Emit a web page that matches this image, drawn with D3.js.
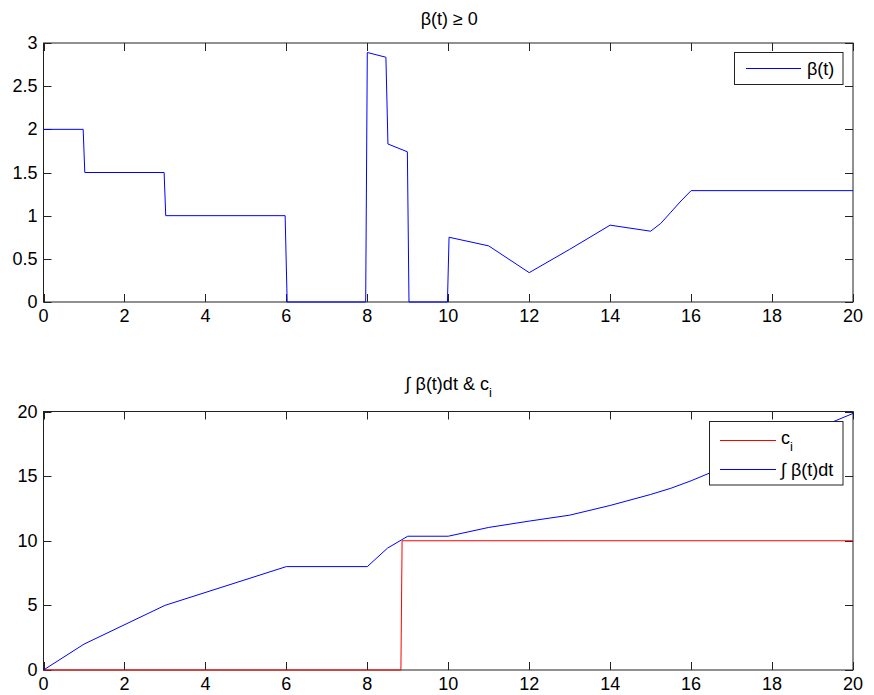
<!DOCTYPE html>
<html><head><meta charset="utf-8">
<script src="https://cdn.jsdelivr.net/npm/d3@7"></script>
<style>
body{margin:0;background:#fff;}
</style></head>
<body><svg id="c" width="874" height="695"></svg>
<script>
// beta(t) samples
const betaT = [0,0.98,1.02,2.98,3.02,5.97,6.02,7.96,8.0,8.46,8.51,8.99,9.03,9.98,10.02,11,12,13,14,15,15.25,15.5,15.75,16,20];
const betaV = [2,2,1.5,1.5,1,1,0,0,2.89,2.835,1.83,1.74,0,0,0.75,0.65,0.34,0.61,0.89,0.82,0.91,1.04,1.17,1.29,1.29];
// integral of beta
const intT = [0,1,3,6,8,8.5,9,10,11,12,13,14,15,15.5,16,20];
const intV = [0,2,5,8,8,9.43,10.35,10.35,11.03,11.52,11.98,12.73,13.58,14.06,14.64,19.85];
// c_i
const ciT = [0,8.83,8.86,20];
const ciV = [0,0,10,10];
const xTicks = [0,2,4,6,8,10,12,14,16,18,20];
const yTicksTop = [0,0.5,1,1.5,2,2.5,3];
const yTicksBot = [0,5,10,15,20];

const svg = d3.select("#c");
const L = 43.5, R = 853;
const FONT = "'Liberation Sans', Arial, Helvetica, sans-serif";
const FS = 18, SUB = 13;

function txt(g, x, y, s, size, anchor){
  return g.append("text").attr("x",x).attr("y",y).attr("text-anchor",anchor||"start")
    .attr("font-family",FONT).attr("font-size",size||FS).attr("fill","#000").text(s);
}

function panel(top, bottom, ydom, yticks, title, series, legend){
  const x = d3.scaleLinear().domain([0,20]).range([L,R]);
  const y = d3.scaleLinear().domain(ydom).range([bottom,top]);
  const g = svg.append("g");
  const tl = 8;
  const col = "#222";
  g.append("rect").attr("x",L).attr("y",top).attr("width",R-L).attr("height",bottom-top)
    .attr("fill","none").attr("stroke",col).attr("stroke-width",1);
  xTicks.forEach(t=>{
    const px = Math.round(x(t))+0.5;
    g.append("line").attr("x1",px).attr("x2",px).attr("y1",bottom).attr("y2",bottom-tl).attr("stroke",col);
    g.append("line").attr("x1",px).attr("x2",px).attr("y1",top).attr("y2",top+tl).attr("stroke",col);
    txt(g, x(t), bottom+20, String(t), FS, "middle");
  });
  yticks.forEach(t=>{
    const py = Math.round(y(t))+0.5;
    g.append("line").attr("x1",L).attr("x2",L+tl).attr("y1",py).attr("y2",py).attr("stroke",col);
    g.append("line").attr("x1",R).attr("x2",R-tl).attr("y1",py).attr("y2",py).attr("stroke",col);
    txt(g, L-6, y(t)+6, String(t), FS, "end");
  });
  series.forEach(s=>{
    const pts = s.t.map((t,i)=>[t,s.v[i]]);
    g.append("path").datum(pts).attr("fill","none").attr("stroke",s.color).attr("stroke-width",1)
      .attr("d", d3.line().x(d=>x(d[0])).y(d=>y(d[1])));
  });
  title(g, (L+R)/2 + 1, top);
  legend(g);
}

panel(43,302,[0,3],yTicksTop,(g,cx,top)=>{
  txt(g, cx, top-18, "β(t) ≥ 0", FS, "middle");
},[{t:betaT,v:betaV,color:"#0000ff"}],(g)=>{
  g.append("rect").attr("x",734.5).attr("y",52.5).attr("width",108.5).attr("height",32).attr("fill","#fff").attr("stroke","#222");
  g.append("line").attr("x1",746).attr("x2",801).attr("y1",68.5).attr("y2",68.5).attr("stroke","#0000ff");
  txt(g, 807, 75, "β(t)");
});

panel(411.5,670,[0,20],yTicksBot,(g,cx,top)=>{
  const main = txt(g, 0, top-22, "∫ β(t)dt & c");
  const w = main.node().getComputedTextLength();
  const total = w + 4;
  main.attr("x", cx - total/2);
  txt(g, cx - total/2 + w, top-15, "i", SUB);
},[{t:ciT,v:ciV,color:"#ff0000"},{t:intT,v:intV,color:"#0000ff"}],(g)=>{
  g.append("rect").attr("x",709.5).attr("y",421.5).attr("width",133.5).attr("height",63.5).attr("fill","#fff").attr("stroke","#222");
  g.append("line").attr("x1",720).attr("x2",776).attr("y1",440.5).attr("y2",440.5).attr("stroke","#ff0000");
  g.append("line").attr("x1",720).attr("x2",776).attr("y1",469.5).attr("y2",469.5).attr("stroke","#0000ff");
  const c = txt(g, 781, 444, "c");
  txt(g, 781 + c.node().getComputedTextLength(), 451, "i", SUB);
  txt(g, 781, 476, "∫ β(t)dt");
});
</script></body></html>
